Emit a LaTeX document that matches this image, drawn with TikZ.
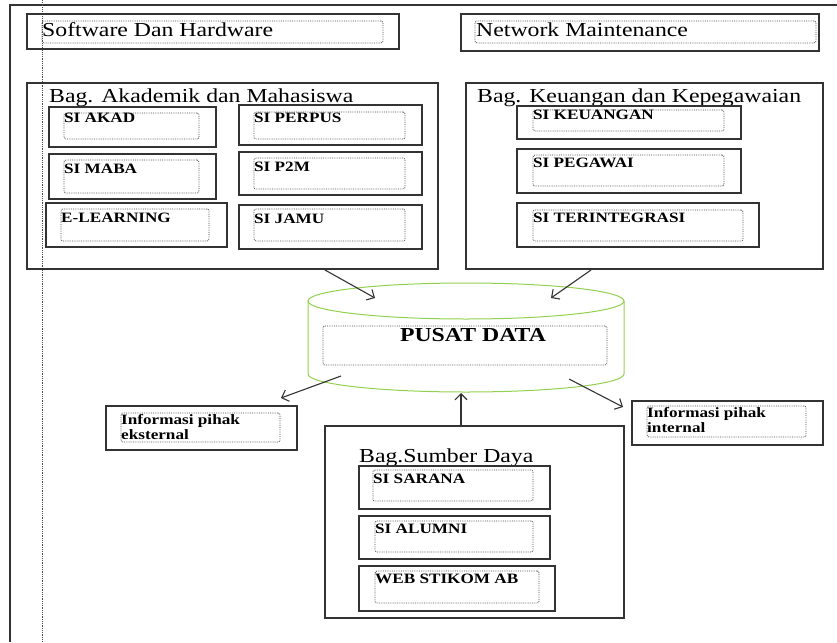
\documentclass[tikz,border=0pt]{standalone}
\usepackage{fontspec}
\setmainfont{Liberation Serif}[FakeStretch=1.2]
\usetikzlibrary{fit,arrows.meta}
\tikzset{
  obox/.style={draw=black!80, line width=1.1pt, inner sep=0pt},
  ibox/.style={draw=black!70, densely dotted, line width=0.8pt, rounded corners=2pt, inner sep=0pt},
  ttl/.style={anchor=base west, inner sep=0pt, font=\fontsize{19.8}{22}\selectfont},
  lbl/.style={anchor=base west, inner sep=0pt, font=\bfseries\fontsize{14.3}{16}\selectfont},
  arr/.style={draw=black!80, line width=1.1pt, -{Straight Barb[length=6pt,width=12pt]}},
  cyl/.style={draw=green!55!black!60!green, line width=0.9pt}
}
\colorlet{cylgreen}{green!50!black}
\definecolor{lgreen}{RGB}{146,208,80}
\begin{document}
\begin{tikzpicture}[x=1pt,y=-1pt]
\useasboundingbox (0,0) rectangle (837,642);
% page frame
\draw[black!80, line width=1.1pt] (10,642) -- (10,5) -- (837,5);
\draw[black!70, densely dotted, line width=0.8pt] (42.5,0) -- (42.5,642);

% top boxes
\node[obox, fit={(27,14)(399,49)}] (sw) {};
\node[ibox, fit={(42,21)(383,43)}] (swi) {};
\node[ttl] (swt) at (42,37) {Software Dan Hardware};
\node[obox, fit={(461,14)(819,51)}] (nm) {};
\node[ibox, fit={(475,21)(816,43)}] (nmi) {};
\node[ttl] (nmt) at (476,37) {Network Maintenance};

% Akademik
\node[obox, fit={(27,83)(438,269)}] (akad) {};
\node[ttl] (akadt) at (49,102) {Bag. Akademik dan Mahasiswa};
\node[obox, fit={(49,107)(216,147)}] (b1) {};
\node[ibox, fit={(64,113)(199,139)}] (b1i) {};
\node[lbl] (b1t) at (64,122) {SI AKAD};
\node[obox, fit={(49,154)(216,199)}] (b2) {};
\node[ibox, fit={(64,160)(199,193)}] (b2i) {};
\node[lbl] (b2t) at (64,173) {SI MABA};
\node[obox, fit={(46,203)(227,247)}] (b3) {};
\node[ibox, fit={(61,209)(209,241)}] (b3i) {};
\node[lbl] (b3t) at (61,222) {E-LEARNING};
\node[obox, fit={(239,105)(422,145)}] (b4) {};
\node[ibox, fit={(254,112)(405,139)}] (b4i) {};
\node[lbl] (b4t) at (254,122) {SI PERPUS};
\node[obox, fit={(239,152)(422,195)}] (b5) {};
\node[ibox, fit={(254,158)(405,189)}] (b5i) {};
\node[lbl] (b5t) at (254,171) {SI P2M};
\node[obox, fit={(239,205)(422,249)}] (b6) {};
\node[ibox, fit={(254,209)(405,241)}] (b6i) {};
\node[lbl] (b6t) at (254,223) {SI JAMU};

% Keuangan
\node[obox, fit={(466,83)(823,269)}] (keu) {};
\node[ttl] (keut) at (477,102) {Bag. Keuangan dan Kepegawaian};
\node[obox, fit={(517,106)(741,139)}] (k1) {};
\node[ibox, fit={(533,110)(724,131)}] (k1i) {};
\node[lbl] (k1t) at (533,119) {SI KEUANGAN};
\node[obox, fit={(517,149)(741,193)}] (k2) {};
\node[ibox, fit={(533,155)(724,186)}] (k2i) {};
\node[lbl] (k2t) at (533,167) {SI PEGAWAI};
\node[obox, fit={(517,203)(759,247)}] (k3) {};
\node[ibox, fit={(533,210)(743,241)}] (k3i) {};
\node[lbl] (k3t) at (533,222) {SI TERINTEGRASI};

% cylinder
\draw[draw=lgreen, line width=1pt] (466,301) ellipse [x radius=158pt, y radius=18pt];
\draw[draw=lgreen, line width=1pt] (308,301) -- (308,374) arc[start angle=180, end angle=360, x radius=158pt, y radius=18pt] -- (624,301);
\node[ibox, fit={(323,326)(607,365)}] (pd) {};
\node[anchor=base, inner sep=0pt, font=\bfseries\fontsize{19.8}{22}\selectfont] (pdt) at (473,341) {PUSAT DATA};

% info boxes
\node[obox, fit={(106,406)(297,450)}] (ie) {};
\node[ibox, fit={(121,413)(280,442)}] (iei) {};
\node[lbl] (iet1) at (121,424) {Informasi pihak};
\node[lbl] (iet2) at (121,439) {eksternal};
\node[obox, fit={(632,401)(823,445)}] (ii) {};
\node[ibox, fit={(647,406)(806,437)}] (iii) {};
\node[lbl] (iit1) at (647,417) {Informasi pihak};
\node[lbl] (iit2) at (647,432) {internal};

% Sumber Daya
\node[obox, fit={(325,426)(624,618)}] (sd) {};
\node[ttl] (sdt) at (359,462) {Bag.Sumber Daya};
\node[obox, fit={(359,466)(550,509)}] (s1) {};
\node[ibox, fit={(373,470)(533,501)}] (s1i) {};
\node[lbl] (s1t) at (373,483) {SI SARANA};
\node[obox, fit={(359,516)(550,559)}] (s2) {};
\node[ibox, fit={(375,521)(533,552)}] (s2i) {};
\node[lbl] (s2t) at (375,533) {SI ALUMNI};
\node[obox, fit={(359,566)(555,611)}] (s3) {};
\node[ibox, fit={(375,571)(539,603)}] (s3i) {};
\node[lbl] (s3t) at (375,583) {WEB STIKOM AB};

% connectors
\coordinate (a1s) at (325,270);
\coordinate (a1e) at (375,298);
\coordinate (a2s) at (591,270);
\coordinate (a2e) at (551,298);
\coordinate (a3s) at (341,376);
\coordinate (a3e) at (281,398);
\coordinate (a4s) at (569,379);
\coordinate (a4e) at (623,407);
\coordinate (a5e) at (461,393);
\draw[arr] (a1s) -- (a1e);
\draw[arr] (a2s) -- (a2e);
\draw[arr] (a3s) -- (a3e);
\draw[arr] (a4s) -- (a4e);
\draw[arr] (sd.north -| a5e) -- (a5e);
\end{tikzpicture}
\end{document}
